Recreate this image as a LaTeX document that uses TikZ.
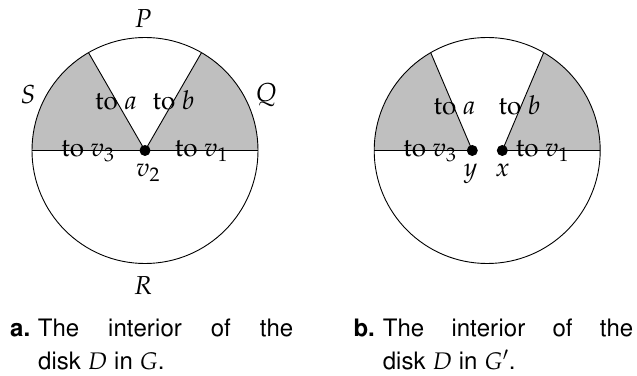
\documentclass[tikz,border=0pt]{standalone}
\usepackage[T1]{fontenc}
\usepackage{mathpazo}
\usepackage[scaled=1]{helvet}
\usetikzlibrary{positioning,backgrounds}

\begin{document}
\begin{tikzpicture}[x=1pt, y=1pt, font=\fontsize{26}{30}\selectfont,
  disk/.style={draw, circle, minimum size=226pt, inner sep=0pt, outer sep=0pt, line width=0.9pt},
  vert/.style={circle, fill, inner sep=0pt, minimum size=11pt},
  lab/.style={anchor=base, inner sep=0pt},
  shaded/.style={fill=black!25},
  captext/.style={anchor=base west, inner sep=0pt, font=\sffamily\fontsize{24}{30}\selectfont}]
\useasboundingbox (0,0) rectangle (637,375);
% left disk: D in G
\node[disk] (D1) at (145,224.5) {};
\node[vert] (v2) at (D1.center) {};
\draw[line width=0.9pt] (D1.west) -- (D1.east);
\draw[line width=0.9pt] (v2.center) -- (D1.120);
\draw[line width=0.9pt] (v2.center) -- (D1.60);
\begin{scope}[on background layer]
\fill[shaded] (D1.center) -- (D1.west) arc[start angle=180, end angle=120, radius=113] -- cycle;
\fill[shaded] (D1.center) -- (D1.east) arc[start angle=0, end angle=60, radius=113] -- cycle;
\end{scope}
\node[inner sep=0pt] (P) at (143,356) {$P$};
\node[inner sep=0pt] (S) at (28,280) {$S$};
\node[inner sep=0pt] (Q) at (266,280) {$Q$};
\node[inner sep=0pt] (R) at (143,89) {$R$};
\node[lab] (v2l) at (148,198) {$v_2$};
\node[lab] (ta1) at (116,265) {to $a$};
\node[lab] (tb1) at (173.5,265) {to $b$};
\node[lab] (tv31) at (88,218.3) {to $v_3$};
\node[lab] (tv11) at (201.5,218.3) {to $v_1$};
% right disk: D in G'
\node[disk] (D2) at (487.2,224.5) {};
\node[vert] (y) at (472.3,224.5) {};
\node[vert] (x) at (502.3,224.5) {};
\draw[line width=0.9pt] (D2.west) -- (y.center) -- (D2.120);
\draw[line width=0.9pt] (D2.east) -- (x.center) -- (D2.60);
\begin{scope}[on background layer]
\fill[shaded] (y.center) -- (D2.west) arc[start angle=180, end angle=120, radius=113] -- cycle;
\fill[shaded] (x.center) -- (D2.east) arc[start angle=0, end angle=60, radius=113] -- cycle;
\end{scope}
\node[lab] (yl) at (470.5,198) {$y$};
\node[lab] (xl) at (502.5,198) {$x$};
\node[lab] (ta2) at (454.5,260) {to $a$};
\node[lab] (tb2) at (519.5,260) {to $b$};
\node[lab] (tv32) at (430,218.3) {to $v_3$};
\node[lab] (tv12) at (542.5,218.3) {to $v_1$};
% captions
\node[captext] (capa) at (10,38.3) {\textbf{a.}};
\node[captext] (capa1) at (37.7,38.3) {\makebox[255.3pt][s]{The interior of the}};
\node[captext] (capa2) at (38,6) {disk $D$ in $G$.};
\node[captext] (capb) at (353.3,38.3) {\textbf{b.}};
\node[captext] (capb1) at (382.7,38.3) {\makebox[250.3pt][s]{The interior of the}};
\node[captext] (capb2) at (382.7,6) {disk $D$ in $G'$.};
\end{tikzpicture}
\end{document}
